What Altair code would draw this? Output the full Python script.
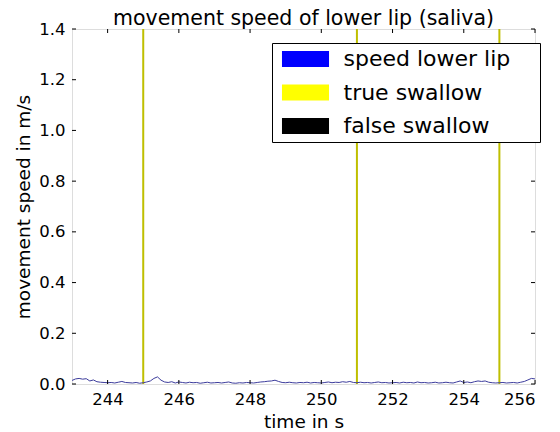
import altair as alt
import pandas as pd

# ---- data ----
t_start = 243.0
t_step = 0.1
speed = [
    0.014, 0.020, 0.022, 0.019, 0.021, 0.012, 0.016, 0.009, 0.007, 0.006, 0.005,
    0.006, 0.004, 0.007, 0.010, 0.006, 0.005, 0.004, 0.006, 0.003, 0.005,
    0.008, 0.012, 0.022, 0.028, 0.015, 0.008, 0.006, 0.009, 0.004, 0.008,
    0.006, 0.004, 0.007, 0.005, 0.006, 0.003, 0.005, 0.007, 0.004, 0.005,
    0.006, 0.004, 0.006, 0.008, 0.004, 0.003, 0.005, 0.004, 0.006, 0.005,
    0.004, 0.006, 0.008, 0.009, 0.011, 0.012, 0.015, 0.010, 0.006, 0.005,
    0.007, 0.005, 0.004, 0.006, 0.005, 0.007, 0.004, 0.006, 0.005, 0.004,
    0.006, 0.008, 0.005, 0.007, 0.006, 0.009, 0.007, 0.010, 0.006, 0.005,
    0.007, 0.005, 0.006, 0.004, 0.006, 0.008, 0.005, 0.006, 0.004, 0.005,
    0.006, 0.004, 0.007, 0.005, 0.006, 0.004, 0.008, 0.005, 0.006, 0.004,
    0.005, 0.007, 0.004, 0.005, 0.007, 0.005, 0.004, 0.008, 0.012, 0.006,
    0.008, 0.005, 0.009, 0.012, 0.010, 0.012, 0.007, 0.005, 0.004, 0.005,
    0.006, 0.004, 0.005, 0.006, 0.004, 0.007, 0.010, 0.016, 0.022, 0.020,
]
times = [round(t_start + i * t_step, 1) for i in range(len(speed))]
true_swallow = [245.0, 251.0, 255.0]
legend_labels = ["speed lower lip", "true swallow", "false swallow"]
legend_colors = ["#0000ff", "#ffff00", "#000000"]
x_ticks = [244, 246, 248, 250, 252, 254, 256]
y_ticks = [0.0, 0.2, 0.4, 0.6, 0.8, 1.0, 1.2, 1.4]

df = pd.DataFrame({"t": times, "v": speed})
sw_df = pd.DataFrame({"t": true_swallow})
leg_df = pd.DataFrame({"label": legend_labels})
xt_df = pd.DataFrame({"x": x_ticks})
yt_df = pd.DataFrame({"y": y_ticks})

W, H = 463, 355
FONT = "DejaVu Sans"
xs = alt.Scale(domain=[243, 256], nice=False, zero=False)
ys = alt.Scale(domain=[0, 1.4], nice=False)

x_axis = alt.Axis(values=x_ticks, title="time in s", grid=False, ticks=False, tickSize=0,
                  domain=False, labelFontSize=16.5, titleFontSize=18.5, labelPadding=7,
                  titlePadding=5, labelFont=FONT, titleFont=FONT, labelColor="black",
                  titleColor="black", titleFontWeight="normal")
y_axis = alt.Axis(values=y_ticks, format=".1f", title="movement speed in m/s", grid=False,
                  ticks=False, tickSize=0, domain=False, labelFontSize=16.5, titleFontSize=18.5,
                  labelPadding=7, titlePadding=5, labelFont=FONT, titleFont=FONT,
                  labelColor="black", titleColor="black", titleFontWeight="normal")

swallow = alt.Chart(sw_df).mark_rule(color="#bfbf00", strokeWidth=2).encode(
    x=alt.X("t:Q", scale=xs, axis=x_axis),
)

line = alt.Chart(df).mark_line(color="#3c3c9c", strokeWidth=1, clip=True).encode(
    x=alt.X("t:Q", scale=xs, axis=x_axis),
    y=alt.Y("v:Q", scale=ys, axis=y_axis),
)

tick_len = 4
xt_bottom = alt.Chart(xt_df).mark_rule(color="black", strokeWidth=1).encode(
    x=alt.X("x:Q", scale=xs), y=alt.value(H), y2=alt.value(H - tick_len))
xt_top = alt.Chart(xt_df).mark_rule(color="black", strokeWidth=1).encode(
    x=alt.X("x:Q", scale=xs), y=alt.value(0), y2=alt.value(tick_len))
yt_left = alt.Chart(yt_df).mark_rule(color="black", strokeWidth=1).encode(
    y=alt.Y("y:Q", scale=ys), x=alt.value(0), x2=alt.value(tick_len))
yt_right = alt.Chart(yt_df).mark_rule(color="black", strokeWidth=1).encode(
    y=alt.Y("y:Q", scale=ys), x=alt.value(W), x2=alt.value(W - tick_len))

legend_layer = alt.Chart(leg_df).mark_point(opacity=0, filled=True, size=1).encode(
    fill=alt.Fill("label:N",
                  scale=alt.Scale(domain=legend_labels, range=legend_colors),
                  legend=alt.Legend(
                      title=" ", titleOrient="right", titleFontSize=22, titlePadding=25,
                      orient="none", legendX=200, legendY=14,
                      symbolType="M-2.94,-1H2.94V1H-2.94Z", symbolSize=256,
                      symbolOffset=17.5,
                      symbolStrokeWidth=0, symbolOpacity=1,
                      labelFontSize=22, labelFont=FONT, labelColor="black",
                      labelOffset=27, padding=5, rowPadding=11.5,
                      strokeColor="black", fillColor="white", cornerRadius=0,
                      labelLimit=400)),
)

chart = alt.layer(swallow, line, xt_bottom, xt_top, yt_left, yt_right, legend_layer).properties(
    width=W, height=H,
    title=alt.TitleParams("movement speed of lower lip (saliva)", fontSize=20.5, font=FONT,
                          fontWeight="normal", offset=-8, anchor="middle", frame="group",
                          color="black"),
    autosize=alt.AutoSizeParams(type="none"),
    padding={"left": 64, "top": 21, "right": 17, "bottom": 50},
).configure_view(stroke="black", strokeWidth=1).configure(background="white")

chart.save("out.html", embed_options={"renderer": "svg", "actions": False})
